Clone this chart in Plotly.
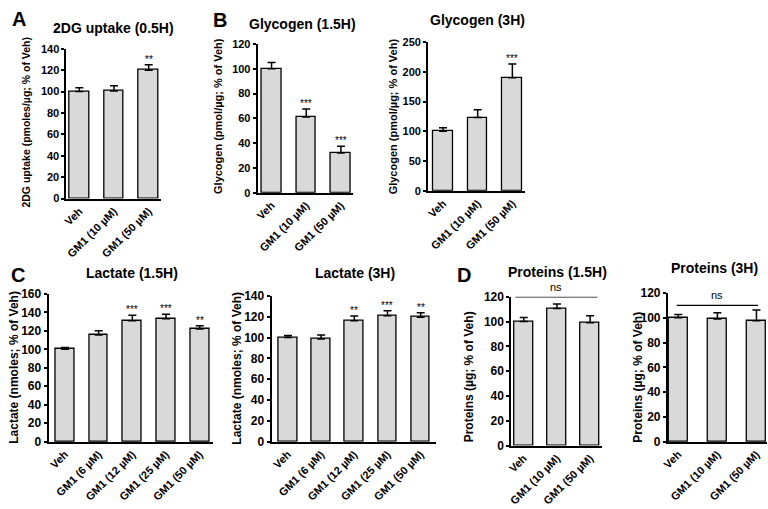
import plotly.graph_objects as go

W, H = 768, 509

# categories
cats3 = ["Veh", "GM1 (10 µM)", "GM1 (50 µM)"]
cats5 = ["Veh", "GM1 (6 µM)", "GM1 (12 µM)", "GM1 (25 µM)", "GM1 (50 µM)"]

# A - 2DG uptake (0.5H)
uptake_mean = [100, 100.5, 120]
uptake_sem = [3.5, 5, 5]
uptake_sig = ["", "", "**"]

# B - glycogen
glyc15_mean = [100, 61, 32]
glyc15_sem = [5, 6.5, 5.5]
glyc15_sig = ["", "***", "***"]
glyc3_mean = [100, 123, 190]
glyc3_sem = [6, 13, 23]
glyc3_sig = ["", "", "***"]

# C - lactate
lact15_mean = [100, 115.5, 131, 133, 122]
lact15_sem = [2, 4.5, 6, 5, 3.5]
lact15_sig = ["", "", "***", "***", "**"]
lact3_mean = [100, 98.5, 116, 121, 119.5]
lact3_sem = [2, 4, 4.7, 4.6, 4.3]
lact3_sig = ["", "", "**", "***", "**"]

# D - proteins
prot15_mean = [100, 110.5, 99]
prot15_sem = [3.4, 3.7, 5.8]
prot3_mean = [100, 99, 97.5]
prot3_sem = [2.6, 5, 8.7]
ns_level = [120, 110]

FONT = "Liberation Sans, Arial, sans-serif"
fig = go.Figure()
annotations = []
shapes = []


def px(x):
    return x / W


def py(y):
    return 1 - y / H


def panel(i, cats, mean, sem, sig, title, ytitle, ymax, dtick,
          xdom, ydom, xr, barw, tpos, ypos, fs_ytitle=10.5, fs_tick=11):
    xa, ya = "x%d" % i, "y%d" % i
    fig.add_trace(go.Bar(
        x=cats, y=mean, width=barw, xaxis=xa, yaxis=ya, showlegend=False,
        marker=dict(color="#d9d9d9", line=dict(color="black", width=1.3)),
        error_y=dict(type="data", array=sem, arrayminus=[0] * len(sem),
                     symmetric=False, color="black", thickness=1.5, width=4),
    ))
    key = "" if i == 1 else str(i)
    fig.layout["xaxis" + key] = dict(
        type="category", domain=[px(xdom[0]), px(xdom[1])], range=xr,
        anchor=ya, showline=True, linewidth=2, linecolor="black",
        ticks="", tickangle=-45, showgrid=False, fixedrange=True,
        tickfont=dict(family=FONT, size=11, color="black", weight="bold"))
    fig.layout["yaxis" + key] = dict(
        domain=[py(ydom[0]), py(ydom[1])], range=[0, ymax], dtick=dtick,
        anchor=xa, showline=True, linewidth=2, linecolor="black",
        ticks="outside", ticklen=3, tickwidth=2, tickcolor="black",
        showgrid=False, zeroline=False, fixedrange=True,
        tickfont=dict(family=FONT, size=fs_tick, color="black", weight="bold"))
    annotations.append(dict(
        text=title, x=px(tpos[0]), y=py(tpos[1]), xref="paper", yref="paper",
        showarrow=False, xanchor="center", yanchor="middle",
        font=dict(family=FONT, size=14, color="black", weight="bold")))
    annotations.append(dict(
        text=ytitle, x=px(ypos[0]), y=py(ypos[1]), xref="paper", yref="paper",
        showarrow=False, textangle=-90, xanchor="center", yanchor="middle",
        font=dict(family=FONT, size=fs_ytitle, color="black", weight="bold")))
    if sig:
        for c, m, s, t in zip(cats, mean, sem, sig):
            if t:
                annotations.append(dict(
                    text=t, x=c, y=m + s, xref=xa, yref=ya, showarrow=False,
                    xanchor="center", yanchor="bottom", yshift=-2,
                    font=dict(family=FONT, size=10, color="black")))


panel(1, cats3, uptake_mean, uptake_sem, uptake_sig, "2DG uptake (0.5H)",
      "2DG uptake (pmoles/µg; % of Veh)", 140, 20,
      (60, 155), (197, 43), [-0.371, 2.343], 0.57, (107, 22), (19, 118))
panel(2, cats3, glyc15_mean, glyc15_sem, glyc15_sig, "Glycogen (1.5H)",
      "Glycogen (pmol/µg; % of Veh)", 120, 20,
      (253, 349), (191, 38), [-0.4, 2.343], 0.57, (298, 17), (213, 112), 11, 11)
panel(3, cats3, glyc3_mean, glyc3_sem, glyc3_sig, "Glycogen (3H)",
      "Glycogen (pmol/µg; % of Veh)", 250, 50,
      (425, 523), (189, 36), [-0.429, 2.371], 0.57, (475, 13), (389, 112), 11, 11)
panel(4, cats5, lact15_mean, lact15_sem, lact15_sig, "Lactate (1.5H)",
      "Lactate (nmoles; % of Veh)", 160, 20,
      (42, 208), (447, 295), [-0.485, 4.397], 0.56, (126, 274), (7, 370), 12, 12)
panel(5, cats5, lact3_mean, lact3_sem, lact3_sig, "Lactate (3H)",
      "Lactate (nmoles; % of Veh)", 140, 20,
      (267, 433), (447, 297), [-0.493, 4.463], 0.56, (351, 274), (232, 371), 12, 12)
panel(6, cats3, prot15_mean, prot15_sem, None, "Proteins (1.5H)",
      "Proteins (µg; % of Veh)", 120, 20,
      (509, 600), (451, 298), [-0.373, 2.343], 0.57, (556, 272), (466, 380), 12, 12)
panel(7, cats3, prot3_mean, prot3_sem, None, "Proteins (3H)",
      "Proteins (µg; % of Veh)", 120, 20,
      (667, 767), (447, 294), [-0.266, 2.27], 0.48, (714, 268), (636, 381), 12, 12)

# "ns" brackets on the protein panels
for i, lvl, x0, x1 in [(6, ns_level[0], -0.25, 2.22), (7, ns_level[1], -0.04, 2.04)]:
    shapes.append(dict(type="line", xref="x%d" % i, yref="y%d" % i,
                       x0=x0, x1=x1, y0=lvl, y1=lvl,
                       line=dict(color="black", width=1.2)))
    annotations.append(dict(text="ns", x=(x0 + x1) / 2, y=lvl,
                            xref="x%d" % i, yref="y%d" % i, showarrow=False,
                            xanchor="center", yanchor="bottom", yshift=2,
                            font=dict(family=FONT, size=11, color="black")))

# panel letters
for letter, lx, ly in [("A", 12, 12), ("B", 215, 13), ("C", 11, 276), ("D", 461, 276)]:
    annotations.append(dict(text=letter, x=px(lx), y=py(ly), xref="paper", yref="paper",
                            showarrow=False, xanchor="center", yanchor="middle",
                            font=dict(family=FONT, size=20, color="black", weight="bold")))

fig.update_layout(
    width=W, height=H, margin=dict(l=0, r=0, t=0, b=0),
    paper_bgcolor="white", plot_bgcolor="white",
    annotations=annotations, shapes=shapes, bargap=0,
)

# remove the default page margin so the figure sits at the window origin
fig.write_html("out.html", config={"displayModeBar": False},
               post_script="document.body.style.margin='0';")
